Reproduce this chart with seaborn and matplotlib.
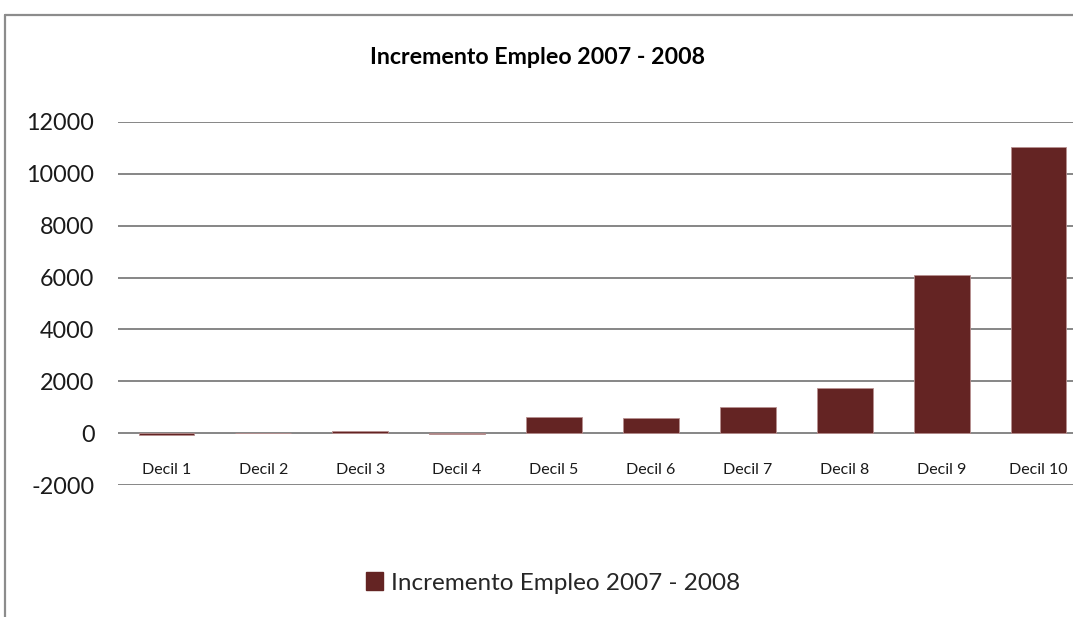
import matplotlib
matplotlib.use("Agg")
import matplotlib.pyplot as plt
from matplotlib.lines import Line2D
from matplotlib.patches import Patch
import seaborn as sns
import pandas as pd

# Data
deciles = ["Decil 1", "Decil 2", "Decil 3", "Decil 4", "Decil 5",
           "Decil 6", "Decil 7", "Decil 8", "Decil 9", "Decil 10"]
incremento = [-60, 0, 100, -20, 610, 590, 990, 1760, 6110, 11050]
y_ticks = [-2000, 0, 2000, 4000, 6000, 8000, 10000, 12000]
series_name = "Incremento Empleo 2007 - 2008"

df = pd.DataFrame({"decil": deciles, "valor": incremento})

sns.set_theme(style="white")
plt.rcParams["font.family"] = ["Lato", "DejaVu Sans"]

W, H = 1073, 617
fig = plt.figure(figsize=(W / 100, H / 100), dpi=100)
fig.patch.set_facecolor("white")

# Plot area (extends a little past the right edge of the canvas)
left, right = 118 / W, 1087 / W
bottom, top = 1 - 485 / H, 1 - 122 / H
ax = fig.add_axes([left, bottom, right - left, top - bottom])

bar_color = "#642423"
sns.barplot(data=df, x="decil", y="valor", color=bar_color, width=0.575,
            edgecolor="#b89090", linewidth=0.6, saturation=1, ax=ax, zorder=3)

ax.set_ylim(-2000, 12000)
ax.set_yticks(y_ticks)
ax.set_yticklabels([str(v) for v in y_ticks], fontsize=16.8, color="#1a1a1a")
ax.set_xlim(-0.5, len(deciles) - 0.5)
ax.set_xlabel("")
ax.set_ylabel("")

ax.grid(axis="y", color="#868686", linewidth=1.4, zorder=0)
ax.grid(axis="x", visible=False)
for s in ax.spines.values():
    s.set_visible(False)

# Category labels sit under the zero line
ax.spines["bottom"].set_position(("data", 0))
ax.tick_params(axis="x", length=0, pad=21.5, labelsize=11.5, labelcolor="#1a1a1a")
ax.tick_params(axis="y", length=0, pad=17)

# Chart title
fig.text(538 / W, 1 - 57 / H, series_name, ha="center", va="center",
         fontsize=16.7, fontweight="bold", color="#000000")

# Legend
handle = Patch(facecolor=bar_color, edgecolor=bar_color)
fig.legend([handle], [series_name], loc="center",
           bbox_to_anchor=(553 / W, 1 - 583 / H), frameon=False,
           fontsize=17.5, handlelength=0.7, handleheight=0.7,
           handletextpad=0.3, borderpad=0)

# Outer chart frame
frame_color = "#8c8c8c"
fig.add_artist(Line2D([5 / W, 5 / W], [0, 1 - 15 / H], transform=fig.transFigure,
                      color=frame_color, linewidth=1.6))
fig.add_artist(Line2D([5 / W, 1], [1 - 15 / H, 1 - 15 / H], transform=fig.transFigure,
                      color=frame_color, linewidth=1.6))

fig.savefig("out.png", dpi=100, facecolor="white")
